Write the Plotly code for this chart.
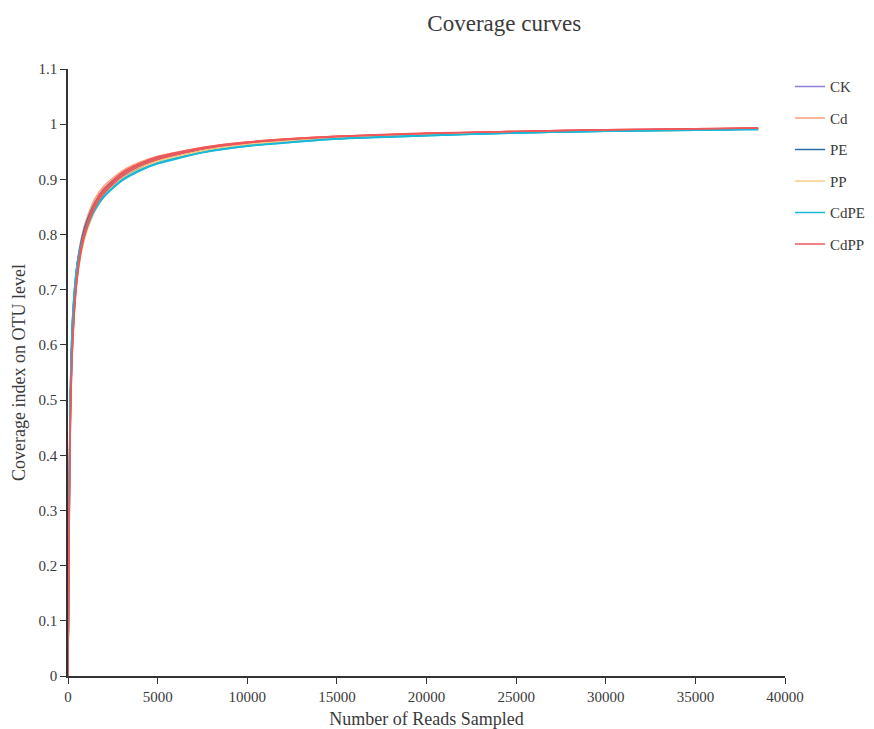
import plotly.graph_objects as go

reads = [1, 100, 250, 500, 750, 1000, 1500, 2000, 3000, 4000, 5000, 7500, 10000, 15000, 20000, 25000, 30000, 35000, 38500]

CK_1 = [0.00, 0.43, 0.62, 0.730, 0.780, 0.812, 0.852, 0.877, 0.906, 0.924, 0.936, 0.954, 0.965, 0.976, 0.982, 0.986, 0.989, 0.991, 0.992]
CK_2 = [0.00, 0.41, 0.61, 0.720, 0.775, 0.806, 0.847, 0.872, 0.902, 0.920, 0.933, 0.952, 0.963, 0.975, 0.981, 0.985, 0.988, 0.990, 0.991]
CK_3 = [0.00, 0.44, 0.63, 0.735, 0.785, 0.815, 0.855, 0.880, 0.909, 0.926, 0.938, 0.955, 0.966, 0.977, 0.982, 0.986, 0.989, 0.991, 0.992]
Cd_1 = [0.00, 0.45, 0.64, 0.745, 0.795, 0.825, 0.865, 0.888, 0.915, 0.931, 0.942, 0.958, 0.968, 0.978, 0.983, 0.987, 0.989, 0.991, 0.993]
Cd_2 = [0.00, 0.44, 0.635, 0.740, 0.790, 0.820, 0.860, 0.884, 0.912, 0.929, 0.940, 0.957, 0.967, 0.977, 0.983, 0.986, 0.989, 0.991, 0.992]
Cd_3 = [0.00, 0.43, 0.625, 0.735, 0.785, 0.816, 0.856, 0.880, 0.909, 0.926, 0.938, 0.955, 0.966, 0.977, 0.982, 0.986, 0.989, 0.991, 0.992]
PE_1 = [0.00, 0.46, 0.645, 0.745, 0.790, 0.820, 0.858, 0.882, 0.910, 0.927, 0.939, 0.956, 0.966, 0.977, 0.982, 0.986, 0.989, 0.991, 0.992]
PE_2 = [0.00, 0.44, 0.630, 0.735, 0.782, 0.812, 0.851, 0.876, 0.905, 0.923, 0.935, 0.953, 0.964, 0.976, 0.981, 0.985, 0.988, 0.990, 0.991]
PE_3 = [0.00, 0.42, 0.615, 0.725, 0.776, 0.807, 0.848, 0.873, 0.903, 0.921, 0.934, 0.952, 0.963, 0.975, 0.981, 0.985, 0.988, 0.990, 0.991]
PP_1 = [0.00, 0.40, 0.600, 0.715, 0.768, 0.800, 0.842, 0.868, 0.899, 0.918, 0.931, 0.950, 0.962, 0.974, 0.980, 0.984, 0.987, 0.989, 0.991]
PP_2 = [0.00, 0.41, 0.605, 0.720, 0.772, 0.804, 0.845, 0.870, 0.901, 0.919, 0.932, 0.951, 0.962, 0.975, 0.981, 0.985, 0.988, 0.990, 0.991]
PP_3 = [0.00, 0.42, 0.615, 0.728, 0.779, 0.810, 0.850, 0.875, 0.904, 0.922, 0.934, 0.953, 0.964, 0.976, 0.981, 0.985, 0.988, 0.990, 0.992]
CdPE_1 = [0.00, 0.47, 0.650, 0.745, 0.785, 0.812, 0.848, 0.870, 0.899, 0.917, 0.930, 0.949, 0.960, 0.973, 0.979, 0.984, 0.987, 0.989, 0.991]
CdPE_2 = [0.00, 0.45, 0.640, 0.738, 0.780, 0.808, 0.845, 0.868, 0.897, 0.915, 0.928, 0.948, 0.960, 0.973, 0.979, 0.984, 0.987, 0.989, 0.990]
CdPE_3 = [0.00, 0.44, 0.630, 0.732, 0.778, 0.806, 0.844, 0.868, 0.898, 0.916, 0.929, 0.949, 0.961, 0.974, 0.980, 0.984, 0.987, 0.990, 0.991]
CdPP_1 = [0.00, 0.39, 0.595, 0.720, 0.776, 0.810, 0.853, 0.879, 0.909, 0.927, 0.939, 0.957, 0.967, 0.978, 0.983, 0.987, 0.990, 0.992, 0.993]
CdPP_2 = [0.00, 0.38, 0.590, 0.715, 0.772, 0.806, 0.849, 0.875, 0.905, 0.924, 0.936, 0.955, 0.966, 0.977, 0.983, 0.987, 0.990, 0.991, 0.993]
CdPP_3 = [0.00, 0.40, 0.600, 0.725, 0.780, 0.814, 0.857, 0.883, 0.912, 0.929, 0.941, 0.958, 0.968, 0.978, 0.984, 0.987, 0.990, 0.992, 0.993]

groups = ["CK", "Cd", "PE", "PP", "CdPE", "CdPP"]
colors = ["#8a7fdb", "#f7a07e", "#2e6da4", "#f5cf86", "#1bb8d8", "#f0575a"]
series = [
    [CK_1, CK_2, CK_3],
    [Cd_1, Cd_2, Cd_3],
    [PE_1, PE_2, PE_3],
    [PP_1, PP_2, PP_3],
    [CdPE_1, CdPE_2, CdPE_3],
    [CdPP_1, CdPP_2, CdPP_3],
]

fig = go.Figure()
for name, col, reps in zip(groups, colors, series):
    for i, ys in enumerate(reps):
        fig.add_trace(go.Scatter(
            x=reads, y=ys, mode="lines", name=name, legendgroup=name,
            showlegend=(i == 0), line=dict(color=col, width=1.4, shape="spline", smoothing=0.6),
        ))

font = "Liberation Serif, Times New Roman, serif"
txt = "#3a3a3a"
fig.update_layout(
    width=874, height=729,
    paper_bgcolor="white", plot_bgcolor="white",
    margin=dict(l=68, r=89, t=69, b=53, autoexpand=False),
    font=dict(family=font, size=15, color=txt),
    title=dict(text="Coverage curves", x=0.577, xanchor="center", y=0.969, yanchor="middle",
               font=dict(family=font, size=23, color=txt)),
    showlegend=True,
    legend=dict(x=1.007, xanchor="left", y=0.998, yanchor="top", tracegroupgap=9,
                font=dict(family=font, size=15, color=txt), itemwidth=30,
                bgcolor="rgba(0,0,0,0)"),
    xaxis=dict(range=[0, 40000], tickvals=[0, 5000, 10000, 15000, 20000, 25000, 30000, 35000, 40000],
               ticktext=["0", "5000", "10000", "15000", "20000", "25000", "30000", "35000", "40000"],
               showgrid=False, zeroline=False, showline=True, linecolor="#333", linewidth=1.5,
               ticks="outside", ticklen=6, tickcolor="#333", automargin=False,
               tickfont=dict(family=font, size=15, color=txt),
               title=dict(text="Number of Reads Sampled", font=dict(family=font, size=18, color=txt), standoff=15)),
    yaxis=dict(range=[0, 1.1], tickvals=[0, 0.1, 0.2, 0.3, 0.4, 0.5, 0.6, 0.7, 0.8, 0.9, 1, 1.1],
               ticktext=["0", "0.1", "0.2", "0.3", "0.4", "0.5", "0.6", "0.7", "0.8", "0.9", "1", "1.1"],
               showgrid=False, zeroline=False, showline=True, linecolor="#333", linewidth=1.5,
               ticks="outside", ticklen=6, tickcolor="#333", automargin=False,
               tickfont=dict(family=font, size=15, color=txt),
               title=dict(text="Coverage index on OTU level", font=dict(family=font, size=18, color=txt), standoff=8)),
)

fig.write_html("out.html", post_script="document.body.style.margin='0';",
               config={"displayModeBar": False})
